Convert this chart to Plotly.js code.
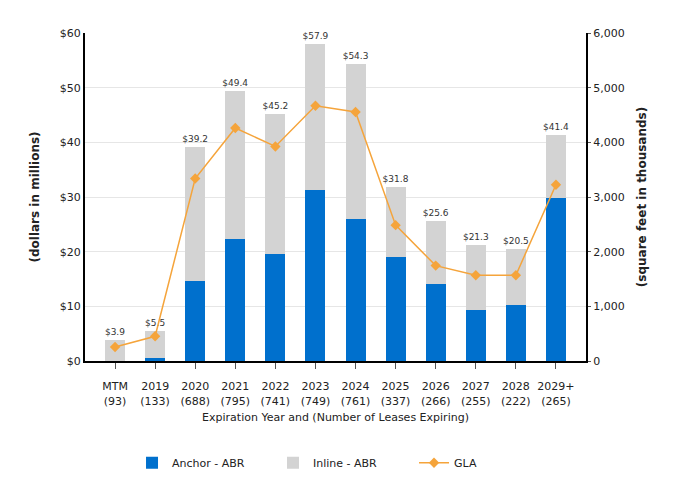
<!DOCTYPE html>
<html>
<head>
<meta charset="utf-8">
<script src="https://cdn.plot.ly/plotly-3.0.1.min.js"></script>
<style>html,body{margin:0;padding:0;background:#fff;}#chart{width:682px;height:500px;}</style>
</head>
<body>
<div id="chart"></div>
<script>
var years = ["MTM", "2019", "2020", "2021", "2022", "2023", "2024", "2025", "2026", "2027", "2028", "2029+"];
var leases = [93, 133, 688, 795, 741, 749, 761, 337, 266, 255, 222, 265];
var totalABR = [3.9, 5.5, 39.2, 49.4, 45.2, 57.9, 54.3, 31.8, 25.6, 21.3, 20.5, 41.4];
var anchorABR = [0, 0.6, 14.6, 22.3, 19.5, 31.2, 25.9, 19.0, 14.0, 9.4, 10.3, 29.8];
var glaThousands = [256, 452, 3339, 4262, 3925, 4670, 4555, 2485, 1745, 1569, 1569, 3223];

var categories = years.map(function (y, i) { return y + "<br>(" + leases[i] + ")"; });
var inlineABR = totalABR.map(function (t, i) { return Math.round((t - anchorABR[i]) * 10) / 10; });
var totalLabels = totalABR.map(function (t) { return "$" + t.toFixed(1); });

var fontFam = "DejaVu Sans, Verdana, sans-serif";

var traces = [
  {
    type: "bar", name: "Anchor - ABR", x: categories, y: anchorABR,
    marker: { color: "#0070CD" }, hoverinfo: "skip"
  },
  {
    type: "bar", name: "Inline - ABR", x: categories, y: inlineABR,
    marker: { color: "#D3D3D3" },
    text: totalLabels, textposition: "outside", cliponaxis: false, constraintext: "none",
    textfont: { size: 9, color: "#333", family: fontFam },
    hoverinfo: "skip"
  },
  {
    type: "scatter", mode: "lines+markers", name: "GLA", x: categories, y: glaThousands,
    yaxis: "y2",
    line: { color: "#F5A43B", width: 1.5 },
    marker: { symbol: "diamond", size: 8, color: "#F5A43B" }
  }
];

var layout = {
  width: 682, height: 500,
  margin: { l: 85, r: 96, t: 33, b: 139 },
  paper_bgcolor: "#fff", plot_bgcolor: "#fff",
  font: { family: fontFam, size: 11, color: "#222" },
  barmode: "stack", bargap: 0.5,
  showlegend: true,
  legend: {
    orientation: "h", x: 0.516, xanchor: "center", y: -0.31, yanchor: "middle",
    font: { size: 11, color: "#222" }, traceorder: "normal", entrywidth: 96
  },
  xaxis: {
    type: "category",
    showline: true, linecolor: "#000", linewidth: 2,
    ticks: "outside", ticklen: 6, tickcolor: "#555",
    ticklabelstandoff: 8,
    tickfont: { size: 11, color: "#222" },
    title: { text: "Expiration Year and (Number of Leases Expiring)", font: { size: 11, color: "#222" }, standoff: 7 },
    fixedrange: true
  },
  yaxis: {
    range: [0, 60], dtick: 10, tickprefix: "$",
    showline: true, linecolor: "#000", linewidth: 2,
    showgrid: true, gridcolor: "#E6E6E6", zeroline: false,
    ticks: "", tickfont: { size: 11, color: "#222" },
    title: { text: "<b>(dollars in millions)</b>", font: { size: 12, color: "#222" }, standoff: 18 }
  },
  yaxis2: {
    overlaying: "y", side: "right",
    range: [0, 6000], dtick: 1000, tickformat: ",",
    showline: true, linecolor: "#000", linewidth: 2,
    showgrid: false, zeroline: false,
    ticks: "outside", ticklen: 3, tickcolor: "#555",
    tickfont: { size: 11, color: "#222" },
    title: { text: "<b>(square feet in thousands)</b>", font: { size: 12, color: "#222" }, standoff: 14 }
  }
};

Plotly.newPlot("chart", traces, layout, { displayModeBar: false, staticPlot: true });
</script>
</body>
</html>
